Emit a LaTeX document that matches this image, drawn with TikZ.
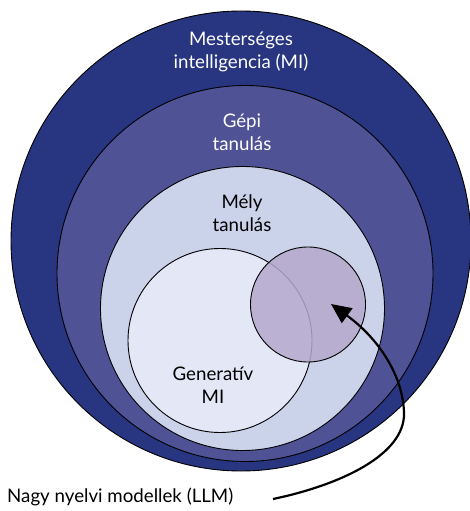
\documentclass[tikz,border=0pt]{standalone}
\usepackage{fontspec}
\setmainfont{Lato}
\usetikzlibrary{arrows.meta}
\definecolor{aiblue}{RGB}{40,53,128}
\definecolor{mlblue}{RGB}{80,82,150}
\definecolor{dlblue}{RGB}{203,211,234}
\definecolor{genblue}{RGB}{227,231,246}
\definecolor{llmpurple}{RGB}{181,168,204}
\tikzset{
  ring/.style={circle, draw=black, line width=0.9pt, inner sep=0pt},
  lbl/.style={align=center, font=\fontsize{18.7}{23}\selectfont, inner sep=0pt},
  pointer/.style={-{Triangle[length=20pt,width=18pt]}, line width=2.2pt, black}
}
\begin{document}
\begin{tikzpicture}[x=1pt,y=-1pt]
\useasboundingbox (0,0) rectangle (469,511);
\node[ring, fill=aiblue, minimum size=460pt] (ai) at (241,241) {};
\node[ring, fill=mlblue, minimum size=376pt] (ml) at (245,273.5) {};
\node[ring, fill=dlblue, minimum size=284pt] (dl) at (242.5,308.5) {};
\node[ring, fill=genblue, minimum size=184pt] (gen) at (220,340.5) {};
\node[ring, fill=llmpurple, fill opacity=0.85, minimum size=115pt] (llm) at (308,304.5) {};

\node[lbl, text=white] (aitext) at (241,52) {Mesterséges\\intelligencia (MI)};
\node[lbl, text=white] (mltext) at (242,132) {Gépi\\tanulás};
\node[lbl, text=black] (dltext) at (242,213) {Mély\\tanulás};
\node[lbl, text=black] (gentext) at (213,385) {Generatív\\MI};
\node[lbl, text=black, anchor=west] (llmtext) at (7,497) {Nagy nyelvi modellek (LLM)};

\coordinate (arrowstart) at (273,499);
\coordinate (arrowtip) at (331,304);
\draw[pointer] (arrowstart) .. controls (340,485) and (405,455) .. (404,413)
  .. controls (403,375) and (378,338) .. (arrowtip);
\end{tikzpicture}
\end{document}
